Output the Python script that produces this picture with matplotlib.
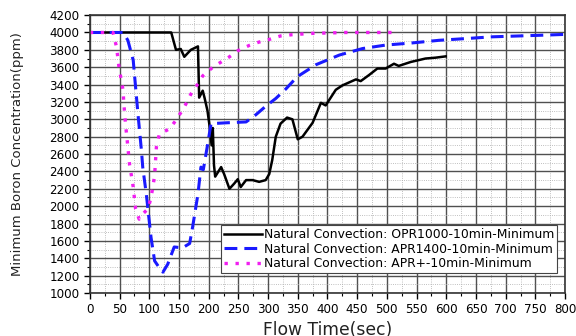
import numpy as np
import matplotlib.pyplot as plt
from matplotlib.ticker import MultipleLocator

plt.rcParams['font.family'] = ['DejaVu Sans']

# OPR1000 (solid black)
opr_t = [0, 137, 145, 153, 159, 170, 182, 184, 190, 193, 198, 201, 205, 207, 209,
         211, 221, 226, 235, 243, 249, 254, 263, 274, 285, 296, 302, 307, 313,
         321, 332, 341, 350, 358, 375, 389, 397, 414, 425, 448, 456, 470, 484,
         498, 512, 520, 540, 565, 582, 599]
opr_b = [4000, 4000, 3800, 3810, 3720, 3800, 3840, 3250, 3330, 3250, 3100, 2950,
         2700, 2900, 2470, 2340, 2450, 2370, 2200, 2260, 2310, 2220, 2300, 2300,
         2280, 2300, 2370, 2530, 2800, 2950, 3020, 3000, 2770, 2800, 2960, 3190,
         3160, 3340, 3390, 3460, 3440, 3510, 3585, 3585, 3640, 3615, 3660, 3700,
         3710, 3725]

# APR1400 (dashed blue)
apr_t = [0, 56, 64, 73, 81, 87, 89, 95, 103, 109, 117, 123, 131, 142, 156, 168,
         173, 182, 187, 191, 198, 204, 230, 263, 279, 296, 313, 330, 349, 381,
         420, 459, 498, 543, 588, 633, 677, 722, 767, 800]
apr_b = [4000, 4000, 3910, 3680, 3060, 2630, 2450, 2140, 1640, 1370, 1290, 1240,
         1330, 1530, 1520, 1570, 1760, 2140, 2450, 2420, 2700, 2950, 2960, 2970,
         3050, 3150, 3240, 3350, 3490, 3630, 3740, 3815, 3855, 3880, 3910, 3930,
         3950, 3960, 3970, 3978]

# APR+ (dotted magenta)
aprp_t = [0, 39, 45, 49, 53, 56, 57, 60, 64, 67, 70, 73, 77, 83, 89, 98, 103,
          106, 109, 112, 117, 134, 145, 159, 170, 182, 190, 207, 221, 235, 249,
          268, 285, 302, 321, 341, 375, 431, 515]
aprp_b = [4000, 4000, 3830, 3600, 3450, 3330, 3200, 2950, 2680, 2470, 2350, 2220,
          1970, 1850, 1910, 1970, 2100, 2220, 2350, 2680, 2830, 2890, 2990, 3140,
          3290, 3410, 3500, 3600, 3660, 3720, 3790, 3850, 3890, 3920, 3960, 3975,
          3990, 4000, 4000]

labels = ['Natural Convection: OPR1000-10min-Minimum',
          'Natural Convection: APR1400-10min-Minimum',
          'Natural Convection: APR+-10min-Minimum']

fig = plt.figure(figsize=(5.76, 3.36), dpi=100)
ax = fig.add_axes([0.156, 0.128, 0.825, 0.827])

ax.plot(opr_t, opr_b, color='black', lw=1.8, label=labels[0])
ax.plot(apr_t, apr_b, color='#1a1aff', lw=2.2, dashes=(4.2, 2.3), label=labels[1])
ax.plot(aprp_t, aprp_b, color='#f01ef0', lw=2.4, dashes=(1, 2.3), label=labels[2])

ax.set_xlim(0, 800)
ax.set_ylim(1000, 4200)
ax.xaxis.set_major_locator(MultipleLocator(50))
ax.xaxis.set_minor_locator(MultipleLocator(25))
ax.yaxis.set_major_locator(MultipleLocator(200))
ax.yaxis.set_minor_locator(MultipleLocator(100))

ax.grid(which='major', color='#505050', lw=1.0, ls='-')
ax.grid(which='minor', color='#aaaaaa', lw=0.6, ls=':')
ax.set_axisbelow(True)

ax.tick_params(which='major', direction='out', length=4, width=1, labelsize=8.6)
ax.tick_params(which='minor', direction='out', length=2, width=0.8)
for s in ax.spines.values():
    s.set_color('#333333')
    s.set_linewidth(1.2)

ax.set_xlabel('Flow Time(sec)', fontsize=12.3, color='#222222', labelpad=3)
ax.set_ylabel('Minimum Boron Concentration(ppm)', fontsize=9.5, color='#222222',
              labelpad=18)

leg = ax.legend(loc='lower right', bbox_to_anchor=(0.996, 0.05), fontsize=8.9,
                handlelength=3.1, labelspacing=0.1, borderpad=0.25,
                handletextpad=0.1, fancybox=False, framealpha=1,
                edgecolor='#444444')
leg.get_frame().set_linewidth(0.8)

fig.savefig('out.png', dpi=100)
